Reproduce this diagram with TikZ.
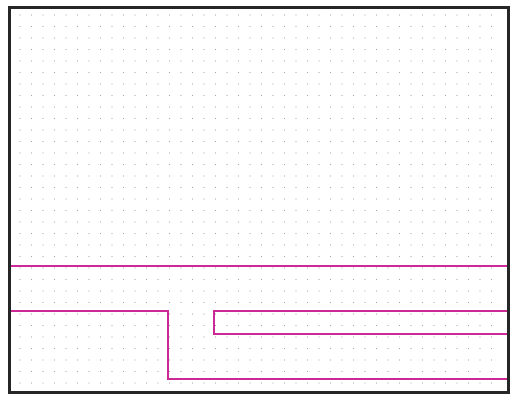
\documentclass[tikz,border=0pt]{standalone}
\definecolor{wire}{RGB}{204,40,150}
\begin{document}
\begin{tikzpicture}[x=0.5pt,y=-0.5pt,line join=miter]
			\def\xmin{9} 	\def\xmax{508}	\def\ymin{7} \def\ymax{392}
			\useasboundingbox (0,0) rectangle (519,404);
			% dot grid
			\foreach \i in {0,...,41}
				\foreach \j in {0,...,32}
					\fill[gray!70] (20+11.5*\i,15+11.5*\j) circle (0.65);
			% channels
			\draw[wire, line width=1pt] (\xmin,266)--(\xmax,266);
			\draw[wire, line width=1pt] (\xmin,311)--(168,311)--(168,379)--(\xmax,379);
			\draw[wire, line width=1pt] (\xmax,311)--(214,311)--(214,334)--(\xmax,334);
			% frame
			\draw[line width=1.5pt, black!85] (\xmin,\ymin) rectangle (\xmax,\ymax);
		\end{tikzpicture}
\end{document}
